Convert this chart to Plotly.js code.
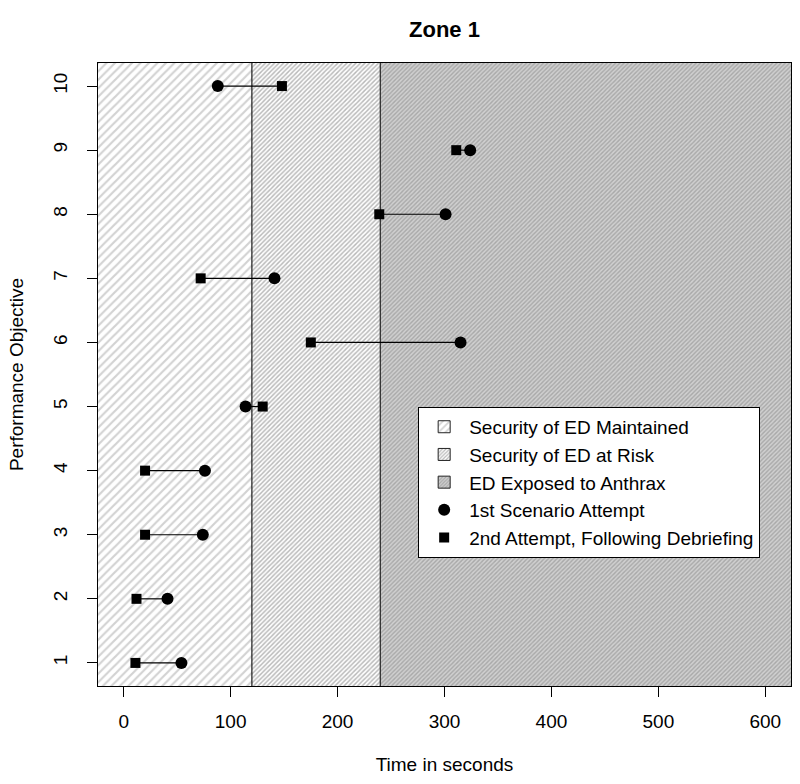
<!DOCTYPE html>
<html>
<head>
<meta charset="utf-8">
<script src="https://cdn.plot.ly/plotly-3.0.1.min.js"></script>
<style>
	body { margin: 0; background: #fff; }
	#chart { width: 800px; height: 784px; }
</style>
</head>
<body>
<div id="chart"></div>
<script>
// performance objectives 1..10
const objectives = [1, 2, 3, 4, 5, 6, 7, 8, 9, 10]
// time in seconds
const firstAttempt = [54, 41, 74, 76, 114, 315, 141, 301, 324, 88]
const secondAttempt = [11, 12, 20, 20, 130, 175, 72, 239, 311, 148]

// zones (the outer ends run past the plot edges)
const zoneNames = ["Security of ED Maintained", "Security of ED at Risk", "ED Exposed to Anthrax"]
const zoneStart = [-60, 120, 240]
const zoneEnd = [120, 240, 700]

const xTicks = [0, 100, 200, 300, 400, 500, 600]

const FONT = "Liberation Sans, Arial, sans-serif"

// H| zone bars
const zonePatterns = [
	{ shape: "/", bgcolor: "#ffffff", fgcolor: "#d2d2d2", size: 6, solidity: 0.35 },
	{ shape: "/", bgcolor: "#ffffff", fgcolor: "#b8b8b8", size: 3.2, solidity: 0.45 },
	{ shape: "/", bgcolor: "#d0d0d0", fgcolor: "#a8a8a8", size: 3, solidity: 0.45 }
]

const traces = []
for (let i = 0; i < zoneNames.length; i++) {
	traces.push({
		type: "bar",
		name: zoneNames[i],
		x: [(zoneStart[i] + zoneEnd[i]) / 2],
		y: [20],
		base: [-5],
		width: [zoneEnd[i] - zoneStart[i]],
		marker: {
			color: zonePatterns[i].bgcolor,
			pattern: zonePatterns[i],
			line: { color: "#222", width: 1 }
		},
		hoverinfo: "skip"
	})
}

// H| segments between attempts
const segX = []
const segY = []
for (let i = 0; i < objectives.length; i++) {
	segX.push(firstAttempt[i], secondAttempt[i], null)
	segY.push(objectives[i], objectives[i], null)
}
traces.push({
	type: "scatter", mode: "lines", x: segX, y: segY,
	line: { color: "#000", width: 1.2 },
	showlegend: false, hoverinfo: "skip"
})

traces.push({
	type: "scatter", mode: "markers", name: "1st Scenario Attempt",
	x: firstAttempt, y: objectives,
	marker: { symbol: "circle", size: 12, color: "#000" }
})
traces.push({
	type: "scatter", mode: "markers", name: "2nd Attempt, Following Debriefing",
	x: secondAttempt, y: objectives,
	marker: { symbol: "square", size: 10, color: "#000" }
})

const layout = {
	width: 800,
	height: 784,
	margin: { l: 98, r: 9, t: 63, b: 98 },
	paper_bgcolor: "#fff",
	plot_bgcolor: "#fff",
	font: { family: FONT, color: "#000", size: 19 },
	barmode: "overlay",
	title: {
		text: "<b>Zone 1</b>",
		font: { family: FONT, size: 22, color: "#000" },
		x: 0.5, xref: "paper", y: 0.962, yanchor: "middle"
	},
	xaxis: {
		range: [-24, 624],
		tickvals: xTicks,
		ticks: "outside", ticklen: 10, tickcolor: "#000", tickwidth: 1,
		ticklabelstandoff: 8,
		showgrid: false, zeroline: false,
		showline: true, mirror: true, linecolor: "#000", linewidth: 1,
		tickfont: { size: 19 },
		title: { text: "Time in seconds", font: { size: 19 }, standoff: 26 }
	},
	yaxis: {
		range: [0.64, 10.36],
		tickvals: objectives,
		tickangle: -90,
		ticks: "outside", ticklen: 10, tickcolor: "#000", tickwidth: 1,
		ticklabelstandoff: 12,
		showgrid: false, zeroline: false,
		showline: true, mirror: true, linecolor: "#000", linewidth: 1,
		tickfont: { size: 19 },
		title: { text: "Performance Objective", font: { size: 19 }, standoff: 21 }
	},
	legend: {
		x: 0.462, xanchor: "left",
		y: 0.448, yanchor: "top",
		bgcolor: "#fff",
		bordercolor: "#000", borderwidth: 1,
		font: { size: 19 },
		itemwidth: 40,
		traceorder: "normal"
	},
	showlegend: true
}

Plotly.newPlot("chart", traces, layout, { displayModeBar: false, staticPlot: true })
</script>
</body>
</html>
